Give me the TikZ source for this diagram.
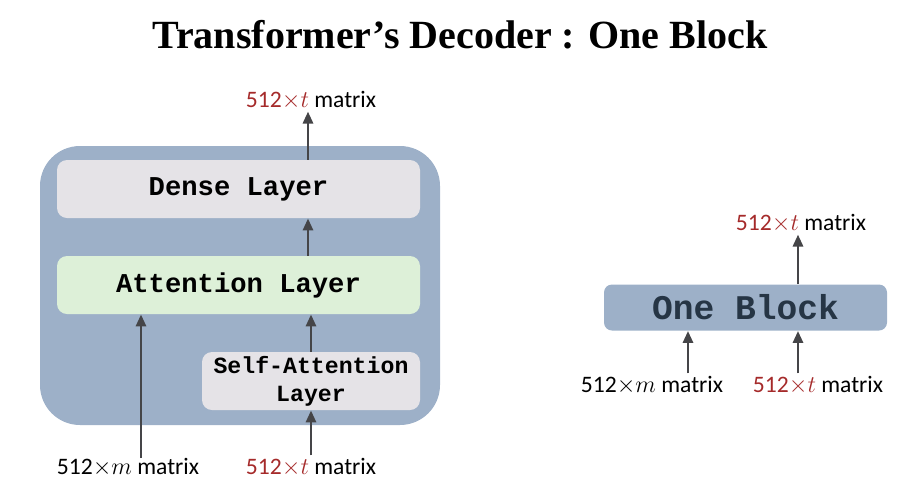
\documentclass[tikz,border=0pt]{standalone}
\usepackage{fontspec}
\setmainfont{Carlito}
\newfontfamily\titlefont{Liberation Serif}
\setmonofont{Liberation Mono}
\usetikzlibrary{arrows.meta}
\definecolor{blockblue}{HTML}{9DB0C8}
\definecolor{layergray}{HTML}{E5E3E7}
\definecolor{layergreen}{HTML}{DDF0D8}
\definecolor{dimred}{HTML}{A52A2A}
\definecolor{arrowgray}{HTML}{454548}
\definecolor{navytext}{HTML}{263545}
\tikzset{
  layerbox/.style={rounded corners=5pt, inner sep=0pt, font=\fontsize{13.6}{14}\selectfont\ttfamily\bfseries},
  flow/.style={arrowgray, line width=1.4pt, -{Triangle[length=6pt,width=5pt]}},
  dimlabel/.style={font=\fontsize{11.8}{13}\selectfont, inner sep=1pt}
}
\newcommand{\tdim}{\textcolor{dimred}{512$\times t$} matrix}
\newcommand{\mdim}{512$\times m$ matrix}
\begin{document}
\begin{tikzpicture}[x=0.5pt,y=-0.5pt]
  \useasboundingbox (0,0) rectangle (912,494);
  \node (title) at (460,35) {\titlefont\fontsize{20}{24}\selectfont\bfseries Transformer’s Decoder : One Block};
  % decoder block
  \fill[blockblue, rounded corners=20pt] (40,146) rectangle (440,425);
  \node[layerbox, fill=layergray, minimum width=181.5pt, minimum height=29pt] (dense) at (238.5,189) {Dense Layer};
  \node[layerbox, fill=layergreen, minimum width=181.5pt, minimum height=29pt] (att) at (238.5,285) {Attention Layer};
  \node[layerbox, fill=layergray, minimum width=109pt, minimum height=29pt, align=center, font=\fontsize{11.6}{14}\selectfont\ttfamily\bfseries] (self) at (311,381) {Self-Attention\\Layer};
  \node[dimlabel] (outL) at (311,100) {\tdim};
  \node[dimlabel] (inmL) at (128,467) {\mdim};
  \node[dimlabel] (intL) at (311,467) {\tdim};
  \draw[flow] (dense.north -| 308,0) -- (outL.south -| 308,0);
  \draw[flow] (att.north -| 308,0) -- (dense.south -| 308,0);
  \draw[flow] (self.north) -- (att.south -| self.north);
  \draw[flow] (intL.north -| self.south) -- (self.south);
  \draw[flow] (141,458) -- (att.south -| 141,0);
  % one block
  \node[fill=blockblue, rounded corners=4pt, minimum width=141.5pt, minimum height=23pt, text=navytext, font=\fontsize{17.3}{18}\selectfont\ttfamily\bfseries] (block) at (745.5,307.5) {One Block};
  \node[dimlabel] (outR) at (801,223) {\tdim};
  \node[dimlabel] (inmR) at (652,385) {\mdim};
  \node[dimlabel] (intR) at (818,385) {\tdim};
  \draw[flow] (block.north -| 798,0) -- (outR.south -| 798,0);
  \draw[flow] (inmR.north -| 688,0) -- (block.south -| 688,0);
  \draw[flow] (intR.north -| 798,0) -- (block.south -| 798,0);
\end{tikzpicture}
\end{document}
